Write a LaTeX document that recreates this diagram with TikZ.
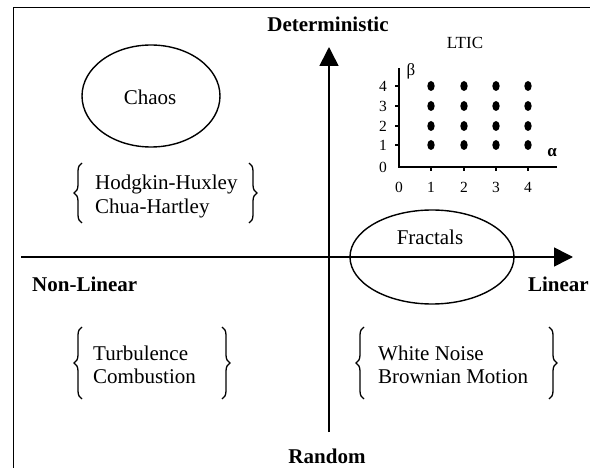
\documentclass[tikz,border=0pt]{standalone}
\usepackage{fontspec}
\setmainfont{Liberation Serif}
\usetikzlibrary{arrows.meta,decorations.pathreplacing,shapes.geometric}
\begin{document}
\begin{tikzpicture}[x=1pt,y=-1pt,
  axisline/.style={line width=1.6pt,-{Triangle[length=19pt,width=19pt]}},
  oval/.style={draw,line width=1.4pt,ellipse,inner sep=0pt},
  bigtxt/.style={font=\fontsize{21}{24}\selectfont,inner sep=0pt},
  boldtxt/.style={font=\fontsize{21}{24}\selectfont\bfseries,inner sep=0pt},
  listtxt/.style={font=\fontsize{21}{23.5}\selectfont,align=left,inner sep=0pt,anchor=west},
  bracepath/.style={decorate,decoration={brace,amplitude=8pt},line width=1.3pt},
  smalltxt/.style={font=\fontsize{15.5}{18}\selectfont,inner sep=0pt},
  plotline/.style={line width=1.3pt}]
\useasboundingbox (0,0) rectangle (590,468);
% frame
\draw[line width=1pt] (13,468) -- (13,8) -- (590,8);
% axes
\coordinate (xl) at (21,257);
\coordinate (xr) at (573,257);
\coordinate (yb) at (329,432);
\coordinate (yt) at (329,47);
\draw[axisline] (xl) -- (xr);
\draw[axisline] (yb) -- (yt);
% axis labels
\node[boldtxt] (det) at (328,24) {Deterministic};
\node[boldtxt] (rand) at (327,456) {Random};
\node[boldtxt,anchor=west] (nonlin) at (32,284) {Non-Linear};
\node[boldtxt,anchor=east] (lin) at (589,284) {Linear};
% ellipses
\node[oval,minimum width=138pt,minimum height=102pt] (chaosov) at (151,96) {};
\node[bigtxt] (chaos) at (150,97) {Chaos};
\node[oval,minimum width=164pt,minimum height=94pt] (fracov) at (432,257) {};
\node[bigtxt] (frac) at (430,237) {Fractals};
% lists with braces
\node[listtxt] (hh) at (95,196.5) {Hodgkin-Huxley\\Chua-Hartley};
\draw[bracepath] (82,223) -- (82,163);
\draw[bracepath] (249,163) -- (249,223);
\node[listtxt] (tc) at (93,365) {Turbulence\\Combustion};
\draw[bracepath] (82,399) -- (82,327);
\draw[bracepath] (222,327) -- (222,399);
\node[listtxt] (wn) at (378,365) {White Noise\\Brownian Motion};
\draw[bracepath] (364,399) -- (364,327);
\draw[bracepath] (549,327) -- (549,399);
% LTIC plot
\node[smalltxt,font=\fontsize{17}{20}\selectfont] (ltic) at (465,43) {LTIC};
\coordinate (po) at (399,167);
\coordinate (px) at (557,167);
\coordinate (py) at (399,68);
\draw[plotline] (px) -- (po) -- (py);
\foreach \i/\xx in {1/431,2/464,3/496,4/528}{
  \draw[plotline] (\xx,167) -- (\xx,171);
  \node[smalltxt] (xl\i) at (\xx,187) {\i};
}
\node[smalltxt] (xl0) at (399,187) {0};
\foreach \j/\yy in {1/145,2/126,3/106,4/86}{
  \draw[plotline] (395,\yy) -- (399,\yy);
  \node[smalltxt] (yl\j) at (383,\yy) {\j};
  \foreach \xx in {431,464,496,528}{
    \fill (\xx,\yy) ellipse (3.7 and 5);
  }
}
\node[smalltxt] (yl0) at (383,167) {0};
\node[smalltxt,font=\fontsize{17}{20}\selectfont] (beta) at (411,71) {β};
\node[smalltxt,font=\fontsize{17}{20}\selectfont\bfseries] (alpha) at (552,153) {α};
\end{tikzpicture}
\end{document}
